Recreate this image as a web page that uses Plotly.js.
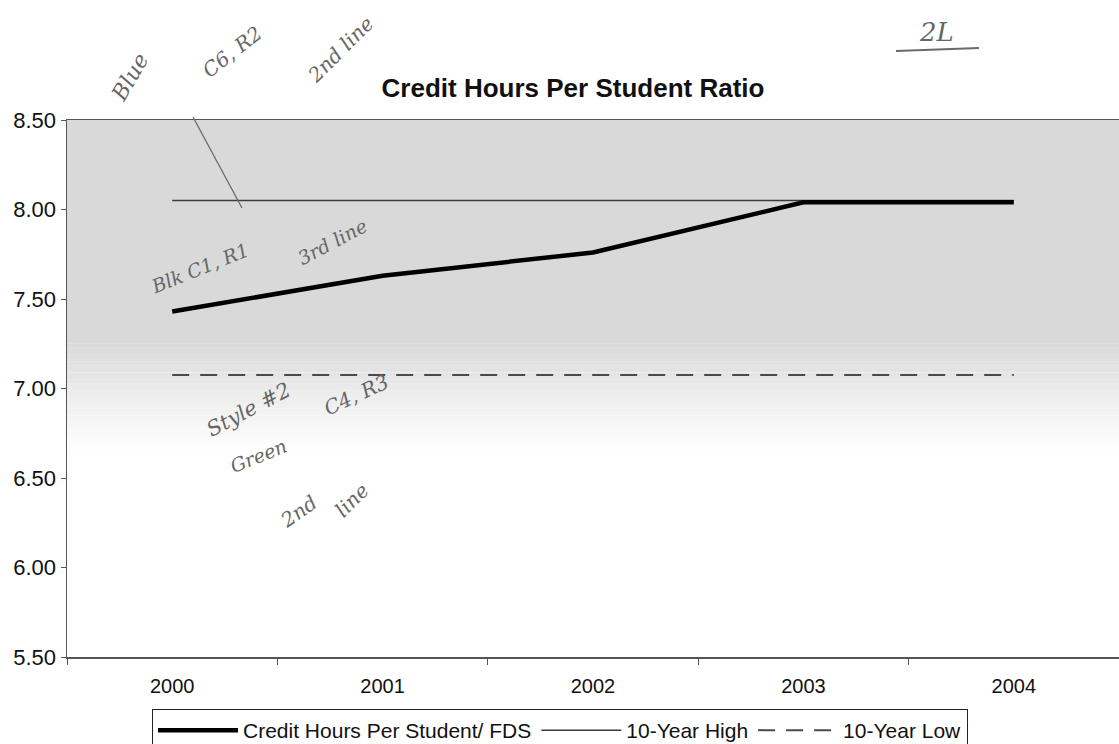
<!DOCTYPE html>
<html>
<head>
<meta charset="utf-8">
<script src="https://cdn.plot.ly/plotly-3.0.1.min.js"></script>
<style>html,body{margin:0;padding:0;overflow:hidden;background:#fff;}#chart{width:1119px;height:744px;}</style>
</head>
<body>
<div id="chart"></div>
<script>
// ---- data ----
const years = ["2000", "2001", "2002", "2003", "2004"];
const creditHoursPerStudent = [7.43, 7.63, 7.76, 8.04, 8.04];
const tenYearHigh = [8.05, 8.05, 8.05, 8.05, 8.05];
const tenYearLow = [7.075, 7.075, 7.075, 7.075, 7.075];
const seriesNames = ["Credit Hours Per Student/ FDS", "10-Year High", "10-Year Low"];
const yTickVals = [5.5, 6.0, 6.5, 7.0, 7.5, 8.0, 8.5];
const yTickText = ["5.50", "6.00", "6.50", "7.00", "7.50", "8.00", "8.50"];
const chartTitle = "Credit Hours Per Student Ratio";

// ---- layout constants ----
const W = 1119, H = 744;
const FONT = "Liberation Sans, Arial, sans-serif";
const HAND = "DejaVu Serif, serif";

// gradient background bands (plot area, grey at top fading to white)
const shapes = [];
function band(y0, y1, g) {
  shapes.push({type: "rect", xref: "paper", yref: "y", x0: 0, x1: 1, y0: y0, y1: y1,
    fillcolor: "rgb(" + g + "," + g + "," + g + ")", line: {width: 0}, layer: "below"});
}
band(7.25, 8.5, 217);
const steps = 30;
for (let i = 0; i < steps; i++) {
  const top = 7.25 - i * (0.6 / steps);
  const bot = top - 0.6 / steps - 0.001;
  const t = (i + 0.5) / steps;
  const g = Math.round(217 + (255 - 217) * Math.pow(t, 0.9));
  band(bot, top, g);
}
// handwritten pointer and underline (pixel -> paper fractions)
function py(y) { return 1 - y / H; }
const PL = 67, PR = 1119, PT = 120, PB = 657;
function pxp(x) { return (x - PL) / (PR - PL); }
function pyp(y) { return (PB - y) / (PB - PT); }
shapes.push({type: "line", xref: "paper", yref: "paper", x0: pxp(193), y0: pyp(117), x1: pxp(242), y1: pyp(208),
  line: {color: "#6a6a6a", width: 1.3}});
shapes.push({type: "line", xref: "paper", yref: "paper", x0: pxp(896), y0: pyp(51), x1: pxp(979), y1: pyp(48),
  line: {color: "#6a6a6a", width: 2}});

function hand(text, x, y, angle, size) {
  return {text: text, xref: "paper", yref: "paper", x: pxp(x), y: pyp(y), showarrow: false,
    textangle: angle, font: {family: HAND, size: size || 20, color: "#666666", style: "italic"},
    xanchor: "center", yanchor: "middle"};
}
const annotations = [
  hand("Blue", 130, 78, -60, 22),
  hand("C6, R2", 232, 52, -38, 20),
  hand("2nd line", 340, 50, -45, 20),
  hand("2L", 936, 32, 0, 26),
  hand("Blk C1, R1", 200, 268, -22, 19),
  hand("3rd line", 332, 242, -28, 19),
  hand("Style #2", 248, 410, -28, 21),
  hand("C4, R3", 356, 395, -25, 20),
  hand("Green", 258, 456, -22, 19),
  hand("2nd", 298, 512, -35, 20),
  hand("line", 352, 500, -45, 20)
];

const traces = [
  {x: years, y: creditHoursPerStudent, name: seriesNames[0], type: "scatter", mode: "lines",
   line: {color: "#000000", width: 4.5}},
  {x: years, y: tenYearHigh, name: seriesNames[1], type: "scatter", mode: "lines",
   line: {color: "#3c3c3c", width: 1.5}},
  {x: years, y: tenYearLow, name: seriesNames[2], type: "scatter", mode: "lines",
   line: {color: "#4a4a4a", width: 2, dash: "17px,11px"}}
];
// draw the thick line on top
const ordered = [traces[1], traces[2], traces[0]];
ordered[0].legendrank = 2; ordered[1].legendrank = 3; ordered[2].legendrank = 1;

const layout = {
  width: W, height: H,
  margin: {l: PL, r: W - PR, t: PT, b: H - PB, pad: 0},
  paper_bgcolor: "#ffffff",
  plot_bgcolor: "#ffffff",
  font: {family: FONT, color: "#000"},
  title: {text: chartTitle, font: {family: FONT, size: 26, color: "#111", weight: "bold"},
    xref: "container", x: 573 / W, xanchor: "center", yref: "container", y: py(88), yanchor: "middle"},
  xaxis: {type: "category", range: [-0.5, 4.5], showgrid: false, zeroline: false,
    showline: true, linecolor: "#555", linewidth: 1.5, mirror: true,
    ticks: "outside", tickson: "boundaries", ticklen: 6, tickcolor: "#555",
    tickfont: {family: FONT, size: 20, color: "#111"}, ticklabelstandoff: 10, fixedrange: true},
  yaxis: {range: [5.5, 8.5], showgrid: false, zeroline: false,
    showline: true, linecolor: "#555", linewidth: 1.5,
    ticks: "outside", ticklen: 5, tickcolor: "#555",
    tickvals: yTickVals, ticktext: yTickText,
    tickfont: {family: FONT, size: 22, color: "#111"}, fixedrange: true},
  showlegend: true,
  legend: {orientation: "h", xref: "container", yref: "container", x: 152 / W, y: py(709),
    xanchor: "left", yanchor: "top", bgcolor: "#ffffff", bordercolor: "#222", borderwidth: 1,
    font: {family: FONT, size: 21, color: "#111"}, itemwidth: 80, tracegroupgap: 0,
    traceorder: "normal"},
  shapes: shapes,
  annotations: annotations
};

Plotly.newPlot("chart", ordered, layout, {displayModeBar: false, staticPlot: true});
</script>
</body>
</html>
